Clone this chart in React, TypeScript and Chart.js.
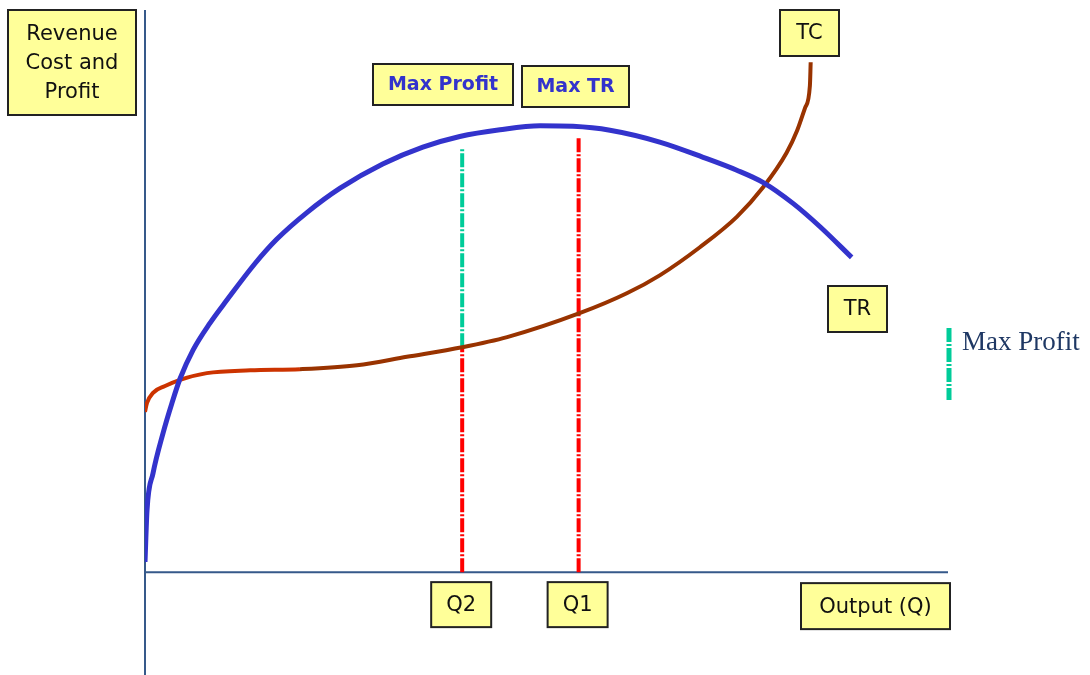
import React, { useEffect, useRef } from "react";
import { Chart, registerables } from "chart.js";

Chart.register(...registerables);

// Total Revenue curve (output Q, value)
const trQ = [0, 0.25, 1.0, 2.24, 3.36, 4.36, 5.98, 8.09, 10.2, 13.7, 16.4, 20.2, 24.3, 29.6, 34.6, 39.2, 44.2, 49.2, 53.3, 57.9, 64.1, 69.5, 73.7, 77.0, 80.7, 84.1, 88.0];
const trV = [1.8, 11.0, 17.6, 24.7, 30.1, 34.4, 39.5, 44.3, 48.4, 54.9, 59.2, 64.0, 68.3, 72.6, 75.6, 77.5, 78.7, 79.4, 79.3, 78.6, 76.5, 73.8, 71.5, 69.3, 65.6, 61.4, 56.0];

// Total Cost curve (output Q, value)
const tcQ = [0, 0.25, 1.0, 2.5, 4.36, 7.7, 13.1, 19.3, 26.4, 32.6, 39.5, 45.1, 54.2, 60.0, 64.1, 69.1, 73.7, 77.0, 79.9, 81.2, 82.2, 82.8, 82.9];
const tcV = [28.5, 30.1, 31.9, 33.1, 34.2, 35.4, 35.9, 36.1, 36.8, 38.3, 40.0, 41.8, 46.1, 49.6, 52.8, 57.8, 63.2, 68.5, 74.6, 78.5, 82.6, 86.5, 90.7];

// Key output levels and the values at them
const Q2 = 39.5;
const Q1 = 54.0;
const tcAtQ2 = 40.0;
const trAtQ2 = 75.6;
const trAtQ1 = 77.4;

const xTickLabels = ["Q2", "Q1"];
const yTitleLines = ["Revenue", "Cost and", "Profit"];
const xTitle = "Output (Q)";
const curveLabels = ["TC", "TR"];
const topLabels = ["Max Profit", "Max TR"];
const legendLabel = "Max Profit";

const X_MIN = 0, X_MAX = 100, Y_MIN = -18.3, Y_MAX = 100;

const SANS = "'DejaVu Sans', sans-serif";
const DASH = [14, 2, 2, 2];

function drawBox(ctx: CanvasRenderingContext2D, x: number, y: number, w: number, h: number, lines: string[], font: string, color: string, lineH = 29) {
  ctx.save();
  ctx.fillStyle = "#ffff99";
  ctx.fillRect(x, y, w, h);
  ctx.strokeStyle = "#222222";
  ctx.lineWidth = 2;
  ctx.strokeRect(x, y, w, h);
  ctx.fillStyle = color;
  ctx.font = font;
  ctx.textAlign = "center";
  ctx.textBaseline = "middle";
  const cy = y + h / 2;
  const start = cy - ((lines.length - 1) * lineH) / 2;
  lines.forEach((l, i) => ctx.fillText(l, x + w / 2, start + i * lineH + 1));
  ctx.restore();
}

const decorPlugin = {
  id: "decor",
  beforeDatasetsDraw(chart: any) {
    const { ctx, chartArea, scales } = chart;
    const x0 = scales.x.getPixelForValue(0);
    const y0 = scales.y.getPixelForValue(0);
    ctx.save();
    ctx.strokeStyle = "#36598a";
    ctx.lineWidth = 2;
    ctx.beginPath();
    ctx.moveTo(x0, chartArea.top);
    ctx.lineTo(x0, chartArea.bottom);
    ctx.moveTo(x0, y0);
    ctx.lineTo(chartArea.right, y0);
    ctx.stroke();
    ctx.restore();
  },
  afterDraw(chart: any) {
    const { ctx, scales, chartArea } = chart;
    const xs = scales.x;
    const y0 = scales.y.getPixelForValue(0);
    const labelFont = `21px ${SANS}`;
    const boldFont = `bold 19px ${SANS}`;

    // y title
    drawBox(ctx, 8, 10, 128, 105, yTitleLines, labelFont, "#111111");
    // top labels
    drawBox(ctx, 373, 64, 140, 41, [topLabels[0]], boldFont, "#3333cc");
    drawBox(ctx, 522, 66, 107, 41, [topLabels[1]], boldFont, "#3333cc");
    // curve labels
    drawBox(ctx, 780, 10, 59, 46, [curveLabels[0]], labelFont, "#111111");
    drawBox(ctx, 828, 286, 59, 46, [curveLabels[1]], labelFont, "#111111");
    // tick labels
    const qs = [Q2, Q1];
    qs.forEach((q, i) => {
      const px = xs.getPixelForValue(q);
      drawBox(ctx, px - 31, y0 + 10, 60, 45, [xTickLabels[i]], labelFont, "#111111");
    });
    // x title
    drawBox(ctx, chartArea.right - 147, y0 + 11, 149, 46, [xTitle], labelFont, "#111111");

    // legend
    ctx.save();
    ctx.strokeStyle = "#00cc99";
    ctx.lineWidth = 5;
    ctx.setLineDash(DASH);
    ctx.beginPath();
    ctx.moveTo(949, 328);
    ctx.lineTo(949, 400);
    ctx.stroke();
    ctx.setLineDash([]);
    ctx.fillStyle = "#1f3864";
    ctx.font = "27px 'Liberation Serif', serif";
    ctx.textAlign = "left";
    ctx.textBaseline = "alphabetic";
    ctx.fillText(legendLabel, 962, 350);
    ctx.restore();
  },
};

export default function App() {
  const ref = useRef<HTMLCanvasElement>(null);
  useEffect(() => {
    if (!ref.current) return;
    const tr = trQ.map((q, i) => ({ x: q, y: trV[i] }));
    const tc = tcQ.map((q, i) => ({ x: q, y: tcV[i] }));
    const chart = new Chart(ref.current, {
      type: "scatter",
      data: {
        datasets: [
          {
            label: "TR",
            data: tr,
            showLine: true,
            borderColor: "#3333cc",
            borderWidth: 5,
            pointRadius: 0,
            cubicInterpolationMode: "monotone",
          },
          {
            label: "TC",
            data: tc,
            showLine: true,
            borderColor: "#993300",
            borderWidth: 4,
            pointRadius: 0,
            cubicInterpolationMode: "monotone",
            segment: {
              borderColor: (c: any) => (c.p0.parsed.x < 14 ? "#cc3300" : "#993300"),
            },
          },
          {
            label: "Q2 cost",
            data: [{ x: Q2, y: 0 }, { x: Q2, y: tcAtQ2 }],
            showLine: true,
            borderColor: "#ff0000",
            borderWidth: 4,
            borderDash: DASH,
            pointRadius: 0,
          },
          {
            label: "Q2 profit",
            data: [{ x: Q2, y: tcAtQ2 }, { x: Q2, y: trAtQ2 }],
            showLine: true,
            borderColor: "#00cc99",
            borderWidth: 4,
            borderDash: DASH,
            pointRadius: 0,
          },
          {
            label: "Q1",
            data: [{ x: Q1, y: 0 }, { x: Q1, y: trAtQ1 }],
            showLine: true,
            borderColor: "#ff0000",
            borderWidth: 4,
            borderDash: DASH,
            pointRadius: 0,
          },
        ],
      },
      options: {
        responsive: false,
        animation: false,
        layout: { padding: { left: 145, right: 142, top: 10, bottom: 0 } },
        plugins: { legend: { display: false }, tooltip: { enabled: false } },
        scales: {
          x: { type: "linear", min: X_MIN, max: X_MAX, display: false },
          y: { type: "linear", min: Y_MIN, max: Y_MAX, display: false },
        },
      },
      plugins: [decorPlugin],
    });
    return () => chart.destroy();
  }, []);
  return (
    <div style={{ position: "absolute", left: 0, top: 0, width: 1090, height: 675, background: "#fff" }}>
      <canvas ref={ref} width={1090} height={675} />
    </div>
  );
}
